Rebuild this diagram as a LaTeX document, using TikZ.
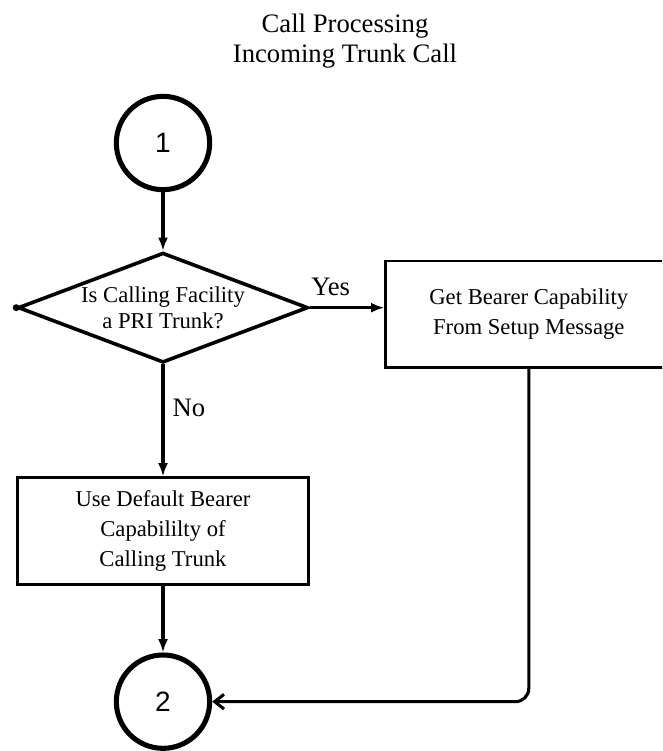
\documentclass[tikz,border=0pt]{standalone}
\usepackage{fontspec}
\setmainfont{Liberation Serif}
\newfontfamily\connfont{Liberation Sans}
\usetikzlibrary{arrows.meta,positioning,shapes.geometric}
\tikzset{
  >={Latex[length=10pt,width=7.5pt]},
  flow/.style={line width=2.3pt},
  block/.style={draw, line width=2pt, align=center, minimum width=218pt, minimum height=80pt, inner sep=0pt, font=\fontsize{17}{22.5}\selectfont},
  decision/.style={diamond, draw, line width=2.7pt, aspect=2.64, align=center, inner sep=0pt, minimum width=217.5pt, minimum height=82.5pt, font=\fontsize{17}{19}\selectfont},
  connector/.style={circle, draw, line width=3.8pt, minimum size=70pt, inner sep=0pt, font=\connfont\fontsize{21}{21}\selectfont},
  lbl/.style={font=\fontsize{20}{20}\selectfont, inner sep=1pt},
}

\begin{document}
\begin{tikzpicture}
  \useasboundingbox (0,0) rectangle (496.5pt,-563.25pt);
  \clip (0,0) rectangle (496.5pt,-563.25pt);

  \node[align=center, font=\fontsize{20}{22}\selectfont] (title) at (258.75pt,-30.75pt) {Call Processing\\Incoming Trunk Call};

  \node[connector] (in1) at (122.25pt,-107.25pt) {1};
  \node[decision, below=44pt of in1] (q) {Is Calling Facility\\a PRI Trunk?};
  \node[block, right=56pt of q, yshift=-5pt, minimum width=214.5pt] (getbc) {Get Bearer Capability\\From Setup Message};
  \node[block, below=84pt of q] (defbc) {Use Default Bearer\\Capabililty of\\Calling Trunk};
  \node[connector, below=50pt of defbc] (out2) {2};

  \fill (q.west) circle (2.6pt);

  \draw[flow, ->] (in1) -- (q);
  \draw[flow, ->] (q.east) -- node[lbl, pos=.28, above=7pt] (yes) {Yes} (q.east -| getbc.west);
  \draw[flow, ->] (q) -- node[lbl, pos=.39, right=5pt] (no) {No} (defbc);
  \draw[flow, ->] (defbc) -- (out2);
  \draw[flow, -{Straight Barb[length=7pt,width=11pt]}, rounded corners=10pt] (getbc.south) |- (out2.east);
\end{tikzpicture}
\end{document}
